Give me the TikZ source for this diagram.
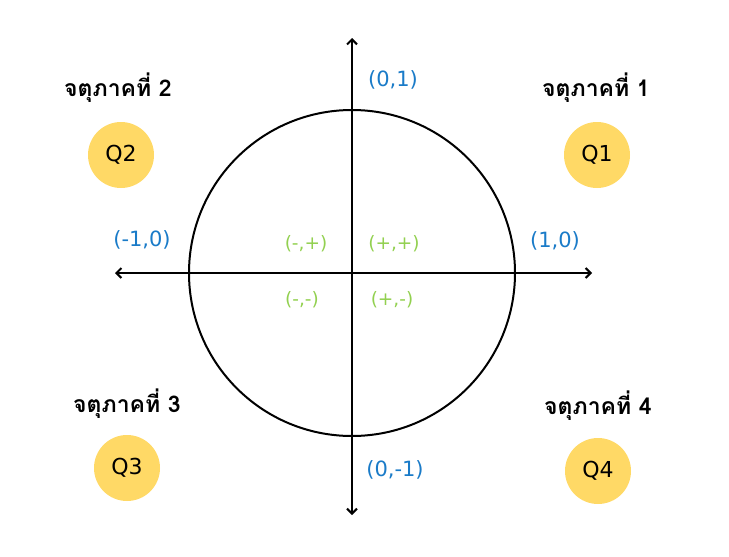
\documentclass[tikz,border=0pt]{standalone}
\usepackage{fontspec}
\usetikzlibrary{arrows.meta}
\newfontfamily\thaifont[Script=Thai]{Loma}
\newfontfamily\labfont{DejaVu Sans}
\definecolor{qyellow}{HTML}{FFD966}
\definecolor{cblue}{HTML}{1A7BC8}
\definecolor{cgreen}{HTML}{92D050}
\begin{document}
\begin{tikzpicture}[x=1pt,y=-1pt,
  axis/.style={line width=2pt,-{Straight Barb[length=5pt,width=10pt,line width=2pt]}},
  qcirc/.style={circle,fill=qyellow,minimum size=66pt,inner sep=0pt,font=\labfont\fontsize{22}{24}\selectfont},
  thlab/.style={font=\thaifont\bfseries\fontsize{23}{26}\selectfont},
  blab/.style={text=cblue,font=\labfont\fontsize{21}{24}\selectfont},
  glab/.style={text=cgreen,font=\labfont\fontsize{18.5}{22}\selectfont}]
\useasboundingbox (0,0) rectangle (729,557);
\coordinate (o) at (352,273);
\coordinate (xl) at (115,273);
\coordinate (xr) at (592,273);
\coordinate (yt) at (352,38);
\coordinate (yb) at (352,515);
\draw[line width=2pt] (o) circle[radius=163];
\draw[axis] (o) -- (xr);
\draw[axis] (o) -- (xl);
\draw[axis] (o) -- (yt);
\draw[axis] (o) -- (yb);
\node[qcirc] (q1) at (597,155) {Q1};
\node[qcirc] (q2) at (121,155) {Q2};
\node[qcirc] (q3) at (127,468) {Q3};
\node[qcirc] (q4) at (598,471) {Q4};
\node[thlab] (t1) at (596,88) {จตุภาคที่ 1};
\node[thlab] (t2) at (118,88) {จตุภาคที่ 2};
\node[thlab] (t3) at (127,404) {จตุภาคที่ 3};
\node[thlab] (t4) at (598,406) {จตุภาคที่ 4};
\node[blab] (p1) at (393,80) {(0,1)};
\node[blab] (p2) at (555,241) {(1,0)};
\node[blab] (p3) at (142,240) {(-1,0)};
\node[blab] (p4) at (395,470) {(0,-1)};
\node[glab] (g1) at (394,244) {(+,+)};
\node[glab] (g2) at (306,244) {(-,+)};
\node[glab] (g3) at (302,300) {(-,-)};
\node[glab] (g4) at (392,300) {(+,-)};
\end{tikzpicture}
\end{document}
